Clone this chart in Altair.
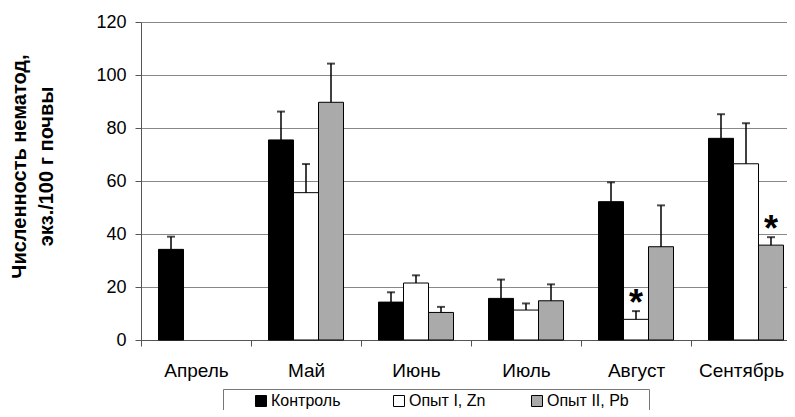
import altair as alt
import pandas as pd

months = ["Апрель", "Май", "Июнь", "Июль", "Август", "Сентябрь"]
groups = ["Контроль", "Опыт I, Zn", "Опыт II, Pb"]

control = [34.2, 75.5, 14.3, 15.7, 52.2, 76.1]
control_err = [39.0, 86.2, 18.0, 22.8, 59.5, 85.2]
zn = [None, 55.6, 21.5, 11.3, 7.8, 66.5]
zn_err = [None, 66.4, 24.4, 13.8, 10.9, 81.8]
pb = [None, 89.7, 10.4, 14.8, 35.2, 35.8]
pb_err = [None, 104.3, 12.5, 21.0, 50.8, 38.8]
zn_star = [False, False, False, False, True, False]
pb_star = [False, False, False, False, False, True]

fills = ["#000000", "#ffffff", "#aaaaaa"]

rows = []
for series, vals, errs, stars in [
    (groups[0], control, control_err, [False] * 6),
    (groups[1], zn, zn_err, zn_star),
    (groups[2], pb, pb_err, pb_star),
]:
    for m, v, e, s in zip(months, vals, errs, stars):
        if v is None:
            continue
        rows.append({"month": m, "group": series, "value": v, "err": e,
                     "star": "*" if s else ""})
df = pd.DataFrame(rows)

x = alt.X("month:N", sort=months, scale=alt.Scale(paddingInner=0, paddingOuter=0),
          axis=alt.Axis(title=None, tickBand="extent", labelAngle=0, labelFontSize=19,
                        labelPadding=15, tickSize=6, grid=False, domainColor="#555",
                        tickColor="#555", labelColor="#000",
                        labelOffset={"condition": {"test": "datum.value === 'Сентябрь'",
                                                   "value": -5}, "value": 0}))
xo = alt.XOffset("group:N", sort=groups, scale=alt.Scale(paddingOuter=0.7, paddingInner=0))
y = alt.Y("value:Q", scale=alt.Scale(domain=[0, 120]),
          axis=alt.Axis(values=[0, 20, 40, 60, 80, 100, 120],
                        title=["Численность нематод,", "экз./100 г почвы"],
                        titleFontSize=20, titleFontWeight="bold", titleColor="#000",
                        titleLineHeight=27, titleX=-132, titleY=144, titleBaseline="top",
                        labelFontSize=18, labelPadding=9, tickSize=6, labelColor="#000",
                        gridColor="#888", gridWidth=1, domainColor="#555", tickColor="#555"))

base = alt.Chart(df)

bars = base.mark_bar(stroke="#000", strokeWidth=1).encode(
    x=x, xOffset=xo, y=y,
    fill=alt.Fill("group:N", sort=groups,
                  scale=alt.Scale(domain=groups, range=fills),
                  legend=alt.Legend(title="\u00a0", titleOrient="right", titlePadding=16,
                                    orient="none", legendX=82, legendY=367,
                                    direction="horizontal", symbolType="square",
                                    symbolSize=121, symbolStrokeColor="#000",
                                    symbolStrokeWidth=1, labelFontSize=16,
                                    labelColor="#000", labelOffset=2,
                                    gridAlign="all", columnPadding=12, symbolOffset=26,
                                    strokeColor="#777", padding=4)),
)

err_line = base.mark_rule(color="#000", strokeWidth=1.5).encode(
    x=x, xOffset=xo, y="value:Q", y2="err:Q")
err_cap = base.mark_tick(color="#000", thickness=2, size=8).encode(
    x=x, xOffset=xo, y="err:Q")
stars = base.mark_text(fontSize=36, fontWeight="bold", baseline="alphabetic", dy=4,
                       color="#000").encode(
    x=x, xOffset=xo, y="err:Q", text="star:N")

chart = (bars + err_line + err_cap + stars).properties(
    width=660, height=318,
    autosize=alt.AutoSizeParams(type="none"),
    padding={"left": 133, "top": 14, "right": -14, "bottom": 70},
).configure(font="Liberation Sans").configure_view(stroke=None)

chart.save("out.html", embed_options={"renderer": "svg", "actions": False})
